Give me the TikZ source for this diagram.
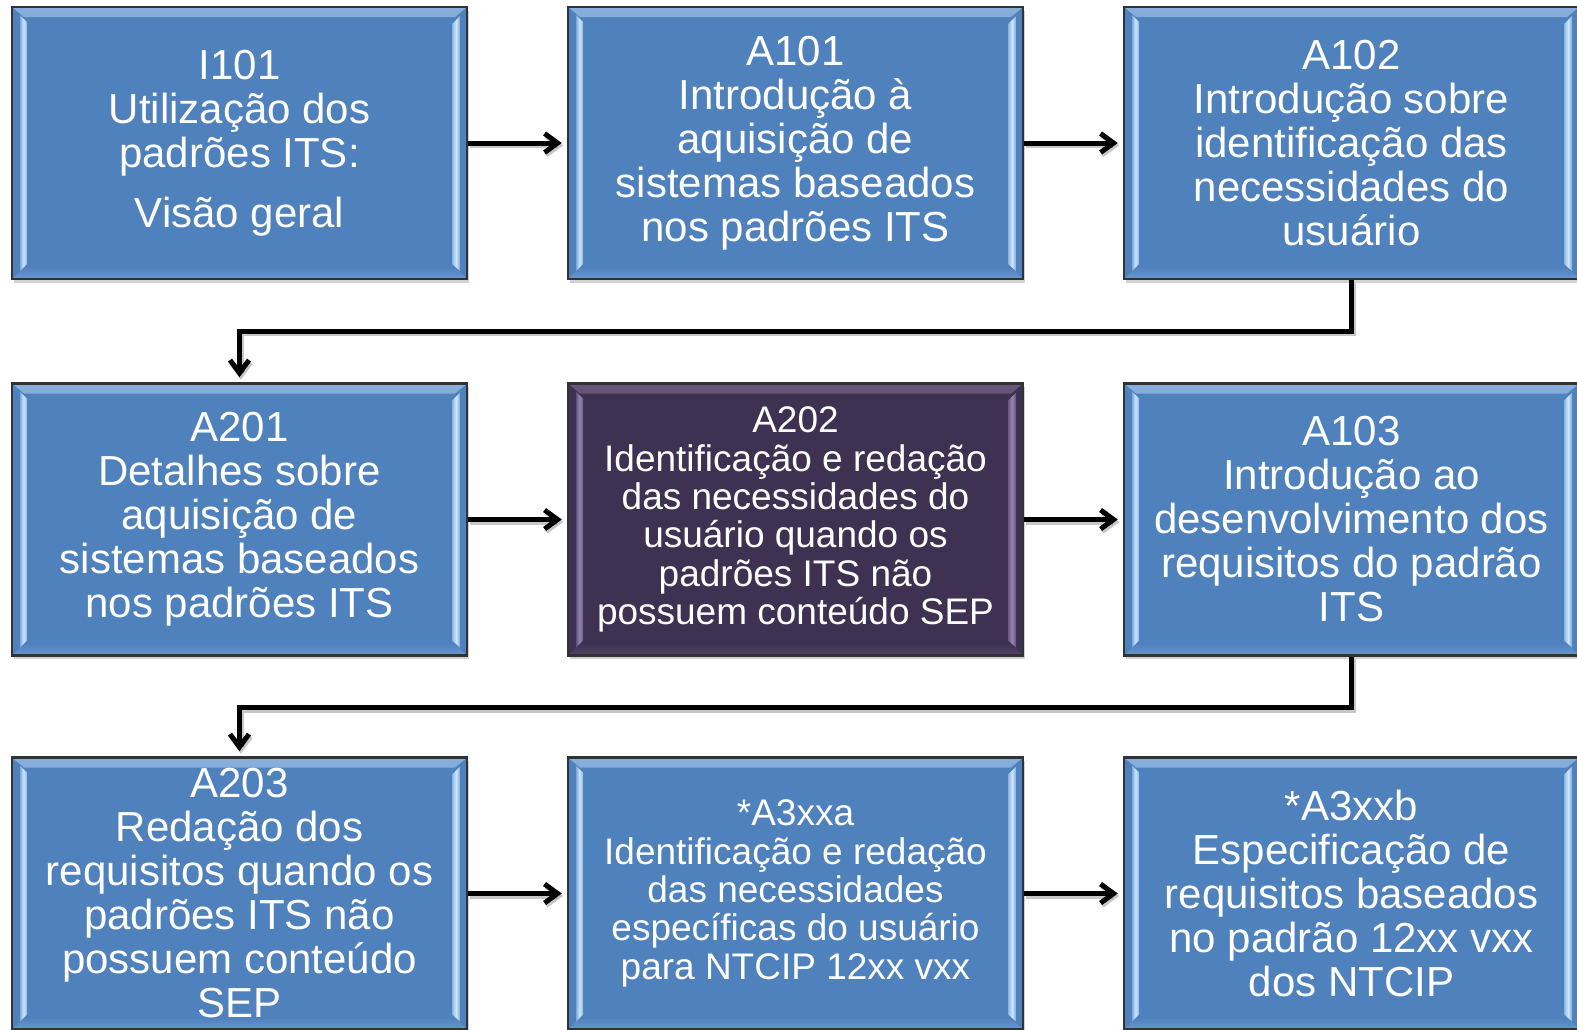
\documentclass[tikz,border=0pt]{standalone}
\usepackage{fontspec}
\setmainfont{Liberation Sans}
\usetikzlibrary{arrows.meta,shadows}
\definecolor{boxblue}{RGB}{79,129,189}
\definecolor{bluelight}{RGB}{205,230,255}
\definecolor{boxpurple}{RGB}{63,49,81}
\definecolor{purplelight}{RGB}{150,132,175}
\definecolor{edgedark}{RGB}{50,50,50}
\newcommand\txtA{\fontsize{42pt}{44pt}\selectfont}
\newcommand\txtB{\fontsize{37pt}{38.3pt}\selectfont}
\tikzset{
  bevelbox/.style 2 args={rectangle, draw=edgedark, line width=2.4pt, fill=#1,
    text=white, align=center, inner sep=0pt, font=\txtA,
    minimum width=455pt, minimum height=272pt,
    drop shadow={shadow xshift=2pt, shadow yshift=-3.5pt, opacity=0.35},
    path picture={
      \fill[top color=#2!45!#1, bottom color=#1]
        (path picture bounding box.north west) -- (path picture bounding box.north east)
        -- ([shift={(-12pt,-10pt)}]path picture bounding box.north east)
        -- ([shift={(12pt,-10pt)}]path picture bounding box.north west) -- cycle;
      \fill[top color=#1, bottom color=#2!22!#1]
        (path picture bounding box.south west) -- (path picture bounding box.south east)
        -- ([shift={(-12pt,12pt)}]path picture bounding box.south east)
        -- ([shift={(12pt,12pt)}]path picture bounding box.south west) -- cycle;
      \shade[left color=#2!40!#1, right color=#2!50!#1, middle color=#2]
        ([shift={(8pt,-8pt)}]path picture bounding box.north west)
        -- ([shift={(15pt,-15pt)}]path picture bounding box.north west)
        -- ([shift={(15pt,15pt)}]path picture bounding box.south west)
        -- ([shift={(8pt,8pt)}]path picture bounding box.south west) -- cycle;
      \shade[left color=#2!50!#1, right color=#2!40!#1, middle color=#2]
        ([shift={(-7pt,-9pt)}]path picture bounding box.north east)
        -- ([shift={(-15pt,-17pt)}]path picture bounding box.north east)
        -- ([shift={(-15pt,15pt)}]path picture bounding box.south east)
        -- ([shift={(-7pt,8pt)}]path picture bounding box.south east) -- cycle;
    }},
  bluebox/.style={bevelbox={boxblue}{bluelight}},
  purplebox/.style={bevelbox={boxpurple}{purplelight}, font=\txtB},
  smallbox/.style={font=\txtB},
  conn/.style={line width=5pt, black, shorten >=5pt,
    preaction={draw=black, opacity=0.22, line width=5pt,
      transform canvas={shift={(1.5pt,-2.5pt)}}},
    -{Straight Barb[length=13pt,width=19pt]}},
}
\begin{document}
\begin{tikzpicture}[x=1pt,y=-1pt]
\useasboundingbox (0,0) rectangle (1577,1029);
\fill[white] (0,0) rectangle (1577,1029);

\node[bluebox] (b1) at (239.5,143) {I101\\Utilização dos\\padrões ITS:\\[16pt]Visão geral};
\node[bluebox] (b2) at (795.5,143) {A101\\Introdução à\\aquisição de\\sistemas baseados\\nos padrões ITS};
\node[bluebox] (b3) at (1351.5,143) {A102\\Introdução sobre\\identificação das\\necessidades do\\usuário};

\node[bluebox] (b4) at (239.5,519.5) {A201\\Detalhes sobre\\aquisição de\\sistemas baseados\\nos padrões ITS};
\node[purplebox] (b5) at (795.5,519.5) {A202\\Identificação e redação\\das necessidades do\\usuário quando os\\padrões ITS não\\possuem conteúdo SEP};
\node[bluebox] (b6) at (1351.5,519.5) {A103\\Introdução ao\\desenvolvimento dos\\requisitos do padrão\\ITS};

\node[bluebox] (b7) at (239.5,893.5) {A203\\Redação dos\\requisitos quando os\\padrões ITS não\\possuem conteúdo\\SEP};
\node[bluebox, smallbox] (b8) at (795.5,893.5) {*A3xxa\\Identificação e redação\\das necessidades\\específicas do usuário\\para NTCIP 12xx vxx};
\node[bluebox] (b9) at (1351.5,893.5) {*A3xxb\\Especificação de\\requisitos baseados\\no padrão 12xx vxx\\dos NTCIP};

\draw[conn] (b1.east) -- (b2.west);
\draw[conn] (b2.east) -- (b3.west);
\draw[conn] (b3.south) -- ++(0,51) -| (b4.north);
\draw[conn] (b4.east) -- (b5.west);
\draw[conn] (b5.east) -- (b6.west);
\draw[conn] (b6.south) -- ++(0,51) -| (b7.north);
\draw[conn] (b7.east) -- (b8.west);
\draw[conn] (b8.east) -- (b9.west);
\end{tikzpicture}
\end{document}
